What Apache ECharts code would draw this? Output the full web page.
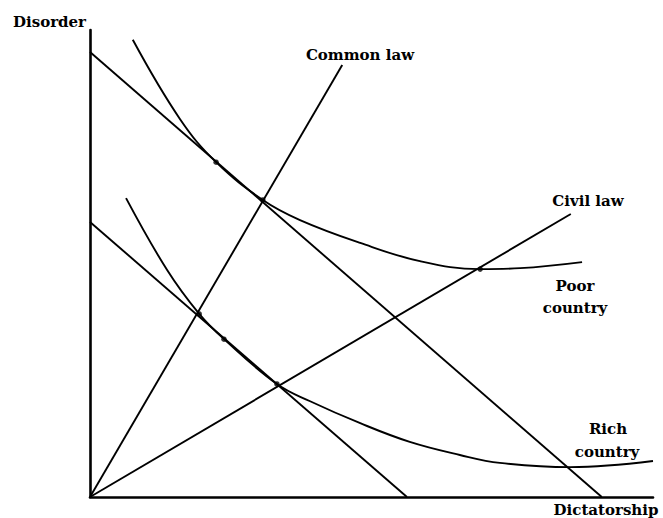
<!DOCTYPE html>
<html>
<head>
<meta charset="utf-8">
<script src="https://cdn.jsdelivr.net/npm/echarts@6/dist/echarts.min.js"></script>
<style>html,body{margin:0;padding:0;background:#fff}#c{width:663px;height:518px}</style>
</head>
<body>
<div id="c"></div>
<script>
// Data (abstract units: x = dictatorship, y = disorder)
const upperBudget = [[0, 9.53], [9.09, 0]];
const lowerBudget = [[0, 5.89], [5.63, 0]];
const commonLaw = [[0, 0], [4.48, 9.25]];
const civilLaw = [[0, 0], [8.54, 6.06]];
const poorCurve = [[0.76, 9.79], [1.60, 8.09], [2.24, 7.17], [3.07, 6.36], [3.73, 5.93], [4.80, 5.44], [5.86, 5.05], [6.93, 4.88], [7.64, 4.90], [8.74, 5.03]];
const richCurve = [[0.64, 6.40], [1.37, 4.86], [1.94, 3.92], [2.38, 3.38], [3.32, 2.42], [3.91, 2.05], [4.80, 1.58], [5.68, 1.18], [6.57, 0.90], [7.28, 0.73], [8.53, 0.64], [10.0, 0.77]];
const poorDots = [[2.24, 7.17], [3.07, 6.36], [6.93, 4.88]];
const richDots = [[1.94, 3.92], [2.38, 3.38], [3.32, 2.42]];
const labels = {
  yName: 'Disorder', xName: 'Dictatorship', common: 'Common law', civil: 'Civil law',
  poor: ['Poor', 'country'], rich: ['Rich', 'country']
};

const chart = echarts.init(document.getElementById('c'), null, {renderer: 'svg'});
const lineS = (d, w) => ({type: 'line', data: d, showSymbol: false, silent: true, animation: false,
  lineStyle: {color: '#000', width: w || 1.9}});
const curveS = d => Object.assign(lineS(d), {smooth: 0.4});
const dotS = d => ({type: 'scatter', data: d, symbolSize: 5.5, itemStyle: {color: '#000'}, animation: false, silent: true});
const serif = '"DejaVu Serif", "Liberation Serif", serif';
const txt = (t, x, y, align, size, weight) => ({type: 'text', x: x, y: y,
  style: {text: t, fill: '#000', font: (weight || 'bold') + ' ' + (size || 15) + 'px ' + serif, textAlign: align || 'center', textVerticalAlign: 'middle'}});

chart.setOption({
  animation: false,
  grid: {left: 90, top: 30, width: 563, height: 467},
  xAxis: {type: 'value', min: 0, max: 10, axisLine: {show: true, onZero: false, lineStyle: {color: '#000', width: 2.6}},
    axisTick: {show: false}, axisLabel: {show: false}, splitLine: {show: false}},
  yAxis: {type: 'value', min: 0, max: 10, axisLine: {show: true, onZero: false, lineStyle: {color: '#000', width: 2.6}},
    axisTick: {show: false}, axisLabel: {show: false}, splitLine: {show: false}},
  series: [
    lineS(upperBudget), lineS(lowerBudget), lineS(commonLaw), lineS(civilLaw),
    curveS(poorCurve), curveS(richCurve), dotS(poorDots), dotS(richDots)
  ],
  graphic: [
    txt(labels.yName, 13, 22, 'left', 15),
    txt(labels.xName, 606, 510, 'center', 15),
    txt(labels.common, 360, 55, 'center', 15),
    txt(labels.civil, 588, 201, 'center', 15),
    txt(labels.poor[0], 575, 286, 'center', 15),
    txt(labels.poor[1], 575, 308, 'center', 15),
    txt(labels.rich[0], 608, 429, 'center', 15),
    txt(labels.rich[1], 607, 452, 'center', 15)
  ]
});
</script>
</body>
</html>
